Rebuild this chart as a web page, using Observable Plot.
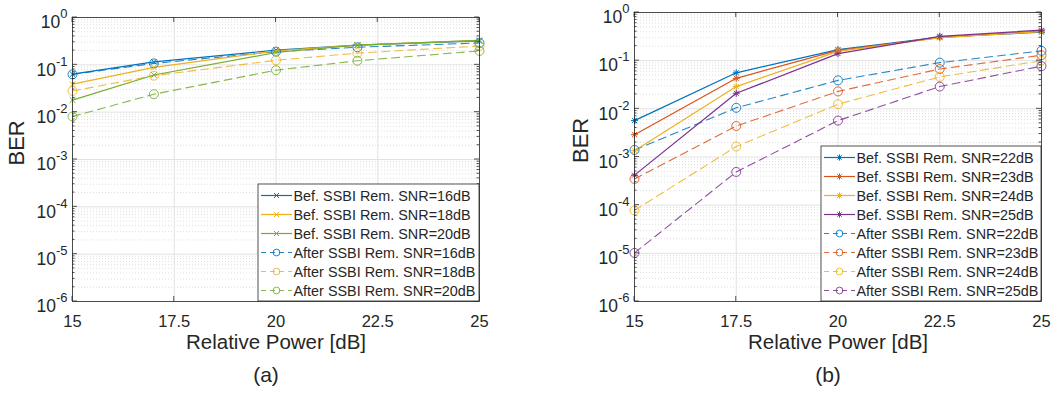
<!DOCTYPE html>
<html><head><meta charset="utf-8">
<script src="https://cdn.jsdelivr.net/npm/d3@7"></script>
<script src="https://cdn.jsdelivr.net/npm/@observablehq/plot@0.6"></script>
<style>
body{margin:0;background:#fff;font-family:"Liberation Sans",Arial,sans-serif;}
#wrap{position:relative;width:1059px;height:401px;overflow:hidden;}
#wrap svg{position:absolute;top:0;overflow:visible;}
</style></head>
<body><div id="wrap"></div>
<script>
// ---- tick labels ----
const xTicks = [15, 17.5, 20, 22.5, 25];
const yTicks = [1e-6, 1e-5, 1e-4, 1e-3, 1e-2, 1e-1, 1];

// ---- panel (a) ----
const xA = [15, 17, 20, 22, 25];
const seriesA = [
  "Bef. SSBI Rem. SNR=16dB", "Bef. SSBI Rem. SNR=18dB", "Bef. SSBI Rem. SNR=20dB",
  "After SSBI Rem. SNR=16dB", "After SSBI Rem. SNR=18dB", "After SSBI Rem. SNR=20dB"
];
const colorsA = ["#0072BD", "#EDB120", "#77AC30"];
const befA16 = [0.0635, 0.116, 0.204, 0.26, 0.32];
const befA18 = [0.039, 0.088, 0.197, 0.26, 0.33];
const befA20 = [0.018, 0.061, 0.182, 0.26, 0.33];
const aftA16 = [0.063, 0.107, 0.19, 0.235, 0.29];
const aftA18 = [0.028, 0.059, 0.125, 0.177, 0.25];
const aftA20 = [0.0081, 0.024, 0.077, 0.122, 0.197];

// ---- panel (b) ----
const xB = [15, 17.5, 20, 22.5, 25];
const seriesB = [
  "Bef. SSBI Rem. SNR=22dB", "Bef. SSBI Rem. SNR=23dB", "Bef. SSBI Rem. SNR=24dB", "Bef. SSBI Rem. SNR=25dB",
  "After SSBI Rem. SNR=22dB", "After SSBI Rem. SNR=23dB", "After SSBI Rem. SNR=24dB", "After SSBI Rem. SNR=25dB"
];
const colorsB = ["#0072BD", "#D95319", "#EDB120", "#7E2F8E"];
const befB22 = [0.0057, 0.056, 0.17, 0.31, 0.39];
const befB23 = [0.0029, 0.043, 0.164, 0.30, 0.41];
const befB24 = [0.00135, 0.029, 0.156, 0.30, 0.40];
const befB25 = [0.00042, 0.021, 0.14, 0.32, 0.43];
const aftB22 = [0.0014, 0.0105, 0.039, 0.091, 0.16];
const aftB23 = [0.00035, 0.0044, 0.023, 0.067, 0.13];
const aftB24 = [7.8e-5, 0.00165, 0.0125, 0.046, 0.10];
const aftB25 = [1.02e-5, 0.00049, 0.0057, 0.029, 0.077];

const valuesA = [befA16, befA18, befA20, aftA16, aftA18, aftA20];
const valuesB = [befB22, befB23, befB24, befB25, aftB22, aftB23, aftB24, aftB25];

const yMinor = [];
for (let k = -6; k < 0; k++) for (let m = 2; m <= 9; m++) yMinor.push(m * Math.pow(10, k));

const FONT = "Liberation Sans, Arial, Helvetica, sans-serif";
const INK = "#262626";

// 8-armed asterisk (MATLAB "*")
const star8 = {draw(ctx, size) {
  const r = Math.sqrt(size / Math.PI), d = r * 0.7071;
  ctx.moveTo(0, -r); ctx.lineTo(0, r);
  ctx.moveTo(-r, 0); ctx.lineTo(r, 0);
  ctx.moveTo(-d, -d); ctx.lineTo(d, d);
  ctx.moveTo(-d, d); ctx.lineTo(d, -d);
}};
// MATLAB "x"
const times = {draw(ctx, size) {
  const r = Math.sqrt(size / Math.PI) * 0.8;
  ctx.moveTo(-r, -r); ctx.lineTo(r, r);
  ctx.moveTo(-r, r); ctx.lineTo(r, -r);
}};

function buildRows(xs, names, values) {
  const rows = [];
  names.forEach((s, i) => xs.forEach((x, j) => rows.push({series: s, kind: s.startsWith("Bef") ? "bef" : "aft", x, y: values[i][j]})));
  return rows;
}

function makePanel(cfg) {
  const {left, width, height, ml, mr, mt, mb, xs, names, values, colors, befSym, befR, ylabDx, ylabDy, caption, legendBox} = cfg;
  const rows = buildRows(xs, names, values);
  const bef = rows.filter(d => d.kind === "bef");
  const aft = rows.filter(d => d.kind === "aft");
  const range = names.map((_, i) => colors[i % colors.length]);
  const fig = Plot.plot({
    width, height, marginLeft: ml, marginRight: mr, marginTop: mt, marginBottom: mb,
    style: {fontFamily: FONT, fontSize: "16.5px", color: INK, background: "white", overflow: "visible"},
    x: {domain: [15, 25]},
    y: {type: "log", domain: [1e-6, 1]},
    color: {domain: names, range},
    marks: [
      Plot.ruleY(yMinor, {stroke: "#c8c8c8", strokeDasharray: "1,2", strokeWidth: 0.6}),
      Plot.ruleY(yTicks, {stroke: "#e2e2e2", strokeWidth: 1}),
      Plot.ruleX(xTicks, {stroke: "#e2e2e2", strokeWidth: 1}),
      Plot.line(aft, {x: "x", y: "y", z: "series", stroke: "series", strokeWidth: 1.1, strokeDasharray: "8,5", strokeOpacity: 0.85}),
      Plot.line(bef, {x: "x", y: "y", z: "series", stroke: "series", strokeWidth: 1.2}),
      Plot.dot(aft, {x: "x", y: "y", stroke: "series", symbol: "circle", r: 4.5, fill: "none", strokeWidth: 1, strokeOpacity: 0.85}),
      Plot.dot(bef, {x: "x", y: "y", stroke: "series", symbol: befSym, r: befR, fill: "none", strokeWidth: 1}),
      Plot.frame({stroke: INK, strokeWidth: 0.8}),
      Plot.axisX({ticks: xTicks, tickSize: 0, tickPadding: 14, fontSize: 16.5, label: null, tickFormat: d => String(d)}),
      Plot.axisY({ticks: yTicks, tickSize: 0, tickPadding: 5, label: null, tickFormat: d => "10^" + Math.round(Math.log10(d))}),
      Plot.text(["Relative Power [dB]"], {text: d => d, frameAnchor: "bottom", dy: 47, fontSize: 20.5}),
      Plot.text(["BER"], {text: d => d, frameAnchor: "left", dx: ylabDx, dy: ylabDy, rotate: -90, fontSize: 22}),
      Plot.text([caption], {text: d => d, frameAnchor: "bottom", dy: 80, dx: -10, fontSize: 21})
    ]
  });
  fig.style.left = left + "px";
  document.getElementById("wrap").appendChild(fig);

  const svg = d3.select(fig);
  // superscript tick labels
  svg.selectAll('g[aria-label="y-axis tick label"] text').each(function() {
    const t = d3.select(this);
    const s = t.text();
    const exp = s.split("^")[1];
    t.text(null).attr("y", 10.7);
    t.append("tspan").attr("font-size", 17.5).text("10");
    t.append("tspan").attr("font-size", 13).attr("dy", -10).text(exp);
  });

  // inward ticks on all four sides (MATLAB box style)
  const xs_ = fig.scale("x"), ys_ = fig.scale("y");
  const x0 = ml, x1 = width - mr, y0 = mt, y1 = height - mb;
  const tg = svg.append("g").attr("stroke", INK).attr("stroke-width", 0.8);
  yTicks.forEach(v => {
    const y = ys_.apply(v);
    tg.append("line").attr("x1", x0).attr("x2", x0 + 5).attr("y1", y).attr("y2", y);
    tg.append("line").attr("x1", x1).attr("x2", x1 - 5).attr("y1", y).attr("y2", y);
  });
  yMinor.forEach(v => {
    const y = ys_.apply(v);
    tg.append("line").attr("x1", x0).attr("x2", x0 + 2.5).attr("y1", y).attr("y2", y);
    tg.append("line").attr("x1", x1).attr("x2", x1 - 2.5).attr("y1", y).attr("y2", y);
  });
  xTicks.forEach(v => {
    const x = xs_.apply(v);
    tg.append("line").attr("x1", x).attr("x2", x).attr("y1", y1).attr("y2", y1 - 5);
    tg.append("line").attr("x1", x).attr("x2", x).attr("y1", y0).attr("y2", y0 + 5);
  });

  // legend
  const lb = legendBox;
  const lg = svg.append("g").attr("font-family", FONT).attr("font-size", 14.4).attr("text-anchor", "start");
  lg.append("rect").attr("x", lb.x).attr("y", lb.y).attr("width", lb.w).attr("height", lb.h)
    .attr("fill", "white").attr("stroke", INK).attr("stroke-width", 0.8);
  names.forEach((name, i) => {
    const cy = lb.y + 11.5 + i * 19;
    const col = range[i];
    const isBef = name.startsWith("Bef");
    const g = lg.append("g");
    g.append("line").attr("x1", lb.x + 3).attr("x2", lb.x + 34).attr("y1", cy).attr("y2", cy)
      .style("stroke", col).attr("stroke-width", 1.2)
      .attr("stroke-dasharray", isBef ? null : "5,4").attr("stroke-opacity", isBef ? 1 : 0.85);
    const sym = d3.symbol().type(isBef ? befSym : d3.symbolCircle).size(isBef ? befR * befR * Math.PI * 0.8 : 3.4 * 3.4 * Math.PI);
    g.append("path").attr("d", sym()).attr("transform", `translate(${lb.x + 18.5},${cy})`)
      .style("fill", "none").style("stroke", col).attr("stroke-width", 1).attr("stroke-opacity", isBef ? 1 : 0.85);
    g.append("text").attr("x", lb.x + 35.5).attr("y", cy).attr("dy", "0.35em")
      .attr("text-anchor", "start").attr("fill", INK).text(name);
  });
}

makePanel({left: 0, width: 530, height: 401, ml: 72, mr: 51, mt: 17, mb: 100,
  xs: xA, names: seriesA, values: valuesA, colors: colorsA, befSym: times, befR: 3.5,
  ylabDx: -56, ylabDy: 6, caption: "(a)", legendBox: {x: 258, y: 184, w: 221, h: 117}});

makePanel({left: 530, width: 529, height: 401, ml: 104, mr: 18, mt: 12, mb: 100,
  xs: xB, names: seriesB, values: valuesB, colors: colorsB, befSym: star8, befR: 3.5,
  ylabDx: -54, ylabDy: 6, caption: "(b)", legendBox: {x: 291, y: 146, w: 220, h: 155}});
</script>
</body></html>
